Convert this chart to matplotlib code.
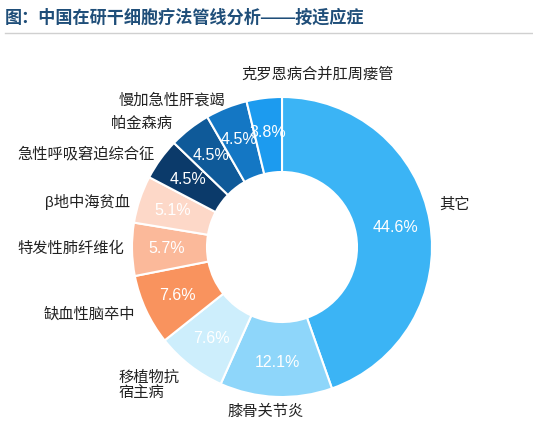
import matplotlib
matplotlib.use("Agg")
import matplotlib.pyplot as plt

plt.rcParams['font.family'] = ['Liberation Sans', 'Noto Sans CJK SC', 'DejaVu Sans']

# data, clockwise from 12 o'clock
labels = ['其它', '膝骨关节炎', '移植物抗\n宿主病', '缺血性脑卒中', '特发性肺纤维化',
          'β地中海贫血', '急性呼吸窘迫综合征', '帕金森病', '慢加急性肝衰竭', '克罗恩病合并肛周瘘管']
shares = [44.6, 12.1, 7.6, 7.6, 5.7, 5.1, 4.5, 4.5, 4.5, 3.8]

colors = ['#3BB4F5', '#8ED6FA', '#CDEEFC', '#F9935E', '#FBB99A',
          '#FDD8C8', '#0B3A6A', '#0F5A99', '#1477C4', '#1C9BEF']

# label layout (axes units, radius = 1)
label_pos = [(1.05, 0.28), (-0.11, -1.10), (-1.09, -0.92), (-0.98, -0.45), (-1.05, -0.01),
             (-1.01, 0.30), (-0.85, 0.62), (-0.73, 0.82), (-0.38, 0.98), (0.24, 1.15)]
label_ha = ['left', 'center', 'left', 'right', 'right',
            'right', 'right', 'right', 'right', 'center']

W, H = 533, 423
cx, cy, R = 282, 247, 150

fig = plt.figure(figsize=(W / 100, H / 100), dpi=100)
ax = fig.add_axes([(cx - R) / W, (H - cy - R) / H, 2 * R / W, 2 * R / H])

wedges, texts, autotexts = ax.pie(
    shares, colors=colors, startangle=90, counterclock=False,
    autopct='%.1f%%', pctdistance=0.77, radius=1,
    wedgeprops=dict(width=0.5, edgecolor='white', linewidth=1.5),
    textprops=dict(color='white', fontsize=11.5))
ax.set_xlim(-1, 1)
ax.set_ylim(-1, 1)
ax.set_aspect('equal')
ax.axis('off')

for lab, (x, y), ha in zip(labels, label_pos, label_ha):
    ax.text(x, y, lab, ha=ha, va='center', fontsize=11, color='#222222',
            linespacing=1.1, clip_on=False)

fig.text(5 / W, 1 - 17 / H, '图：中国在研干细胞疗法管线分析——按适应症',
         fontsize=12.3, fontweight='bold', color='#1F4E79', va='center', ha='left')
fig.add_artist(plt.Line2D([5 / W, 1], [1 - 33 / H, 1 - 33 / H], color='#D0D0D0', linewidth=1))

fig.savefig('out.png', dpi=100, facecolor='white')
